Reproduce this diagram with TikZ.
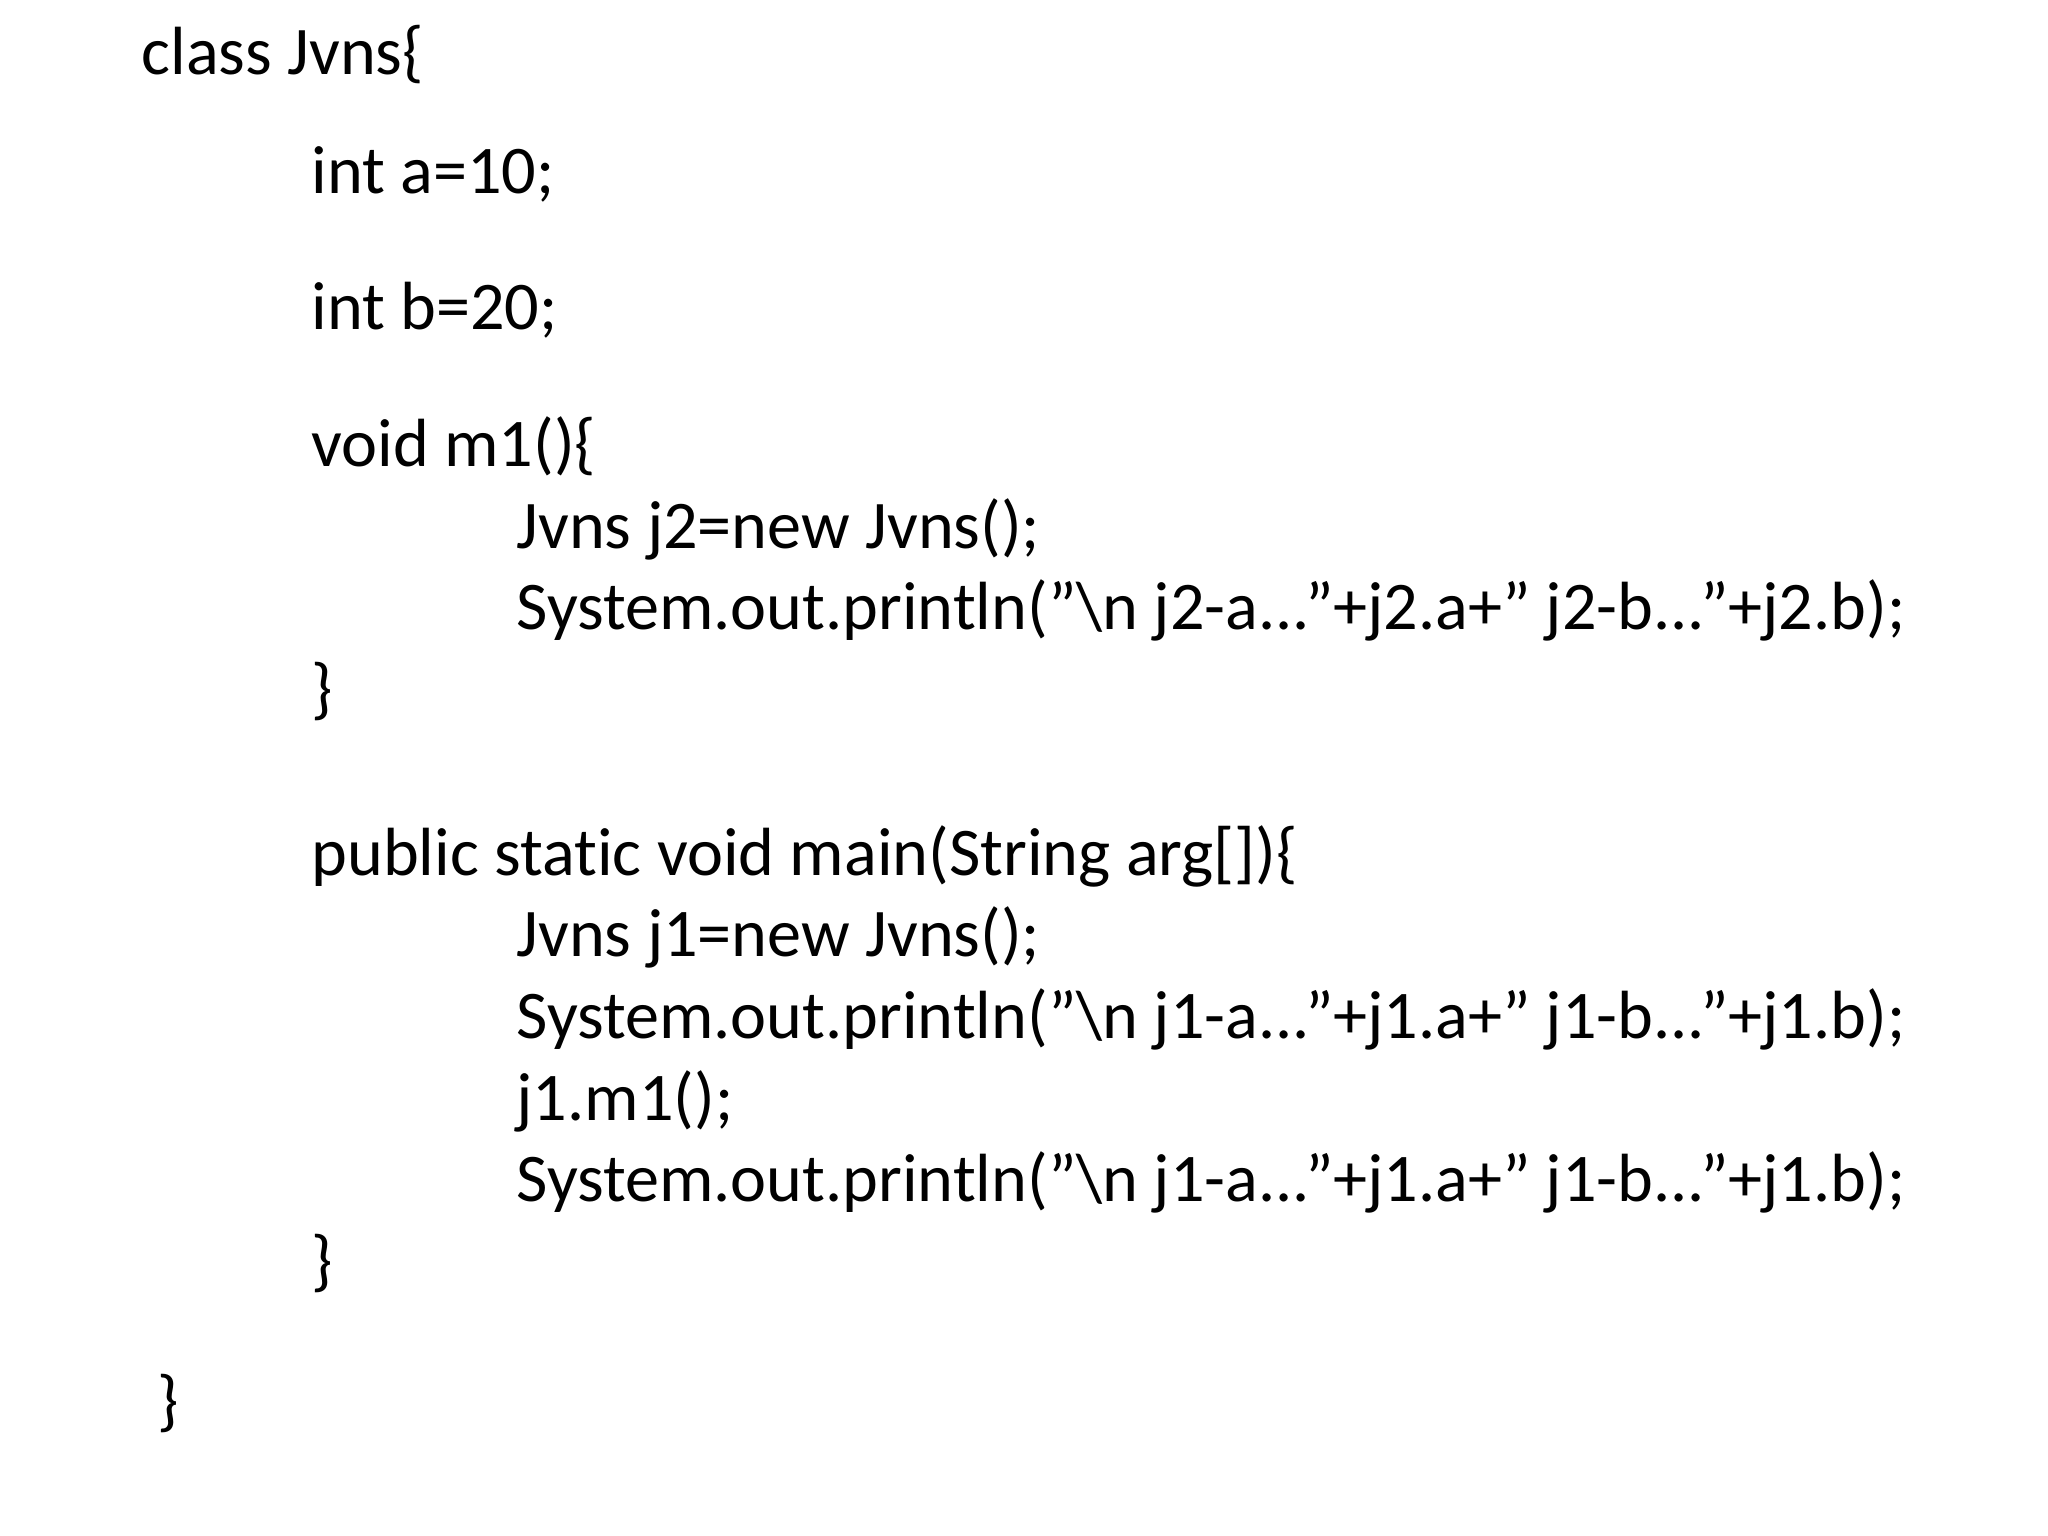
\documentclass[tikz,border=0pt]{standalone}
\usepackage{fontspec}
\setmainfont[Ligatures=NoCommon]{Carlito}
\newcommand{\q}{\symbol{34}}
\begin{document}
\begin{tikzpicture}[x=0.01306cm,y=-0.01306cm,
  code/.style={anchor=base west,inner sep=0pt,font=\fontsize{19.4}{23}\selectfont}]
\useasboundingbox[fill=white] (0,0) rectangle (1568,1176);
\node[code] (l1) at (108,57) {class Jvns\{};
\node[code] (l2) at (238,148) {int a=10;};
\node[code] (l3) at (238,252) {int b=20;};
\node[code] (l4) at (238,357) {void m1()\{};
\node[code] (l5) at (395,420) {Jvns j2=new Jvns();};
\node[code] (l6) at (395,482) {System.out.println(\q\textbackslash n j2-a...\q+j2.a+\q\ j2-b...\q+j2.b);};
\node[code] (l7) at (238,545) {\}};
\node[code] (l8) at (238,670) {public static void main(String arg[])\{};
\node[code] (l9) at (395,732) {Jvns j1=new Jvns();};
\node[code] (l10) at (395,795) {System.out.println(\q\textbackslash n j1-a...\q+j1.a+\q\ j1-b...\q+j1.b);};
\node[code] (l11) at (395,858) {j1.m1();};
\node[code] (l12) at (395,920) {System.out.println(\q\textbackslash n j1-a...\q+j1.a+\q\ j1-b...\q+j1.b);};
\node[code] (l13) at (238,983) {\}};
\node[code] (l14) at (120,1090) {\}};
\end{tikzpicture}
\end{document}
